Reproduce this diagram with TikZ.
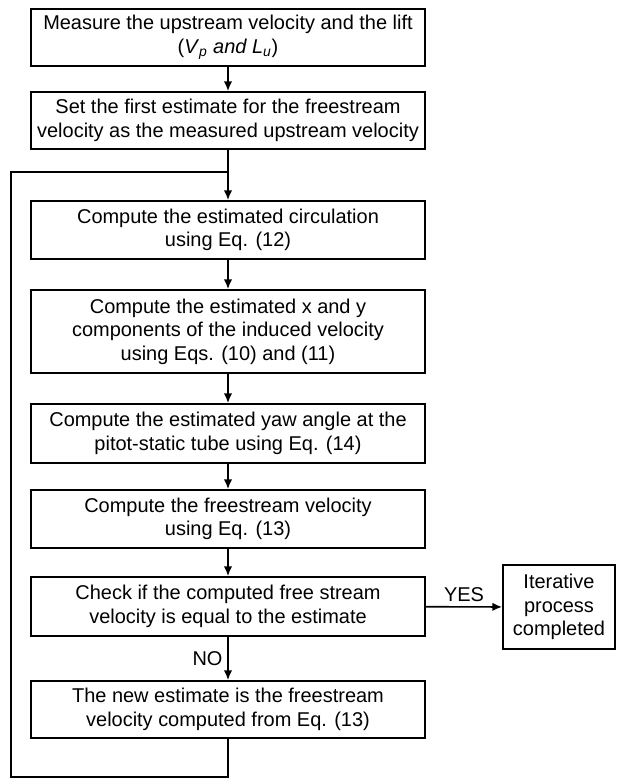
\documentclass[tikz,border=0pt]{standalone}
\usepackage{fontspec}
\setmainfont{Liberation Sans}
\usetikzlibrary{arrows.meta}

\tikzset{
	procbox/.style={draw, line width=1.2pt, align=center, minimum width=9.85cm,
		inner xsep=1pt, font=\fontsize{14.2}{16.8}\selectfont},
	flow/.style={line width=1.2pt, -{Latex[length=7pt, width=6pt]}},
	link/.style={line width=1.2pt},
	tag/.style={font=\fontsize{14.2}{16.8}\selectfont}
}

\begin{document}
\begin{tikzpicture}
		\useasboundingbox (0, 0) rectangle (15.45, -19.475);
		
		\node[procbox, minimum height=1.425cm] (measure) at (5.7, -0.9375)
			{Measure the upstream velocity and the lift\\(\textit{V}\textsubscript{\textit{p}}\textit{ and L}\textsubscript{\textit{u}})};
		\node[procbox, minimum height=1.425cm] (first) at (5.7, -3.0125)
			{Set the first estimate for the freestream\\velocity as the measured upstream velocity};
		\node[procbox, minimum height=1.45cm] (circ) at (5.7, -5.75)
			{Compute the estimated circulation\\using Eq. (12)};
		\node[procbox, minimum height=2.075cm] (induced) at (5.7, -8.2875)
			{Compute the estimated x and y\\components of the induced velocity\\using Eqs. (10) and (11)};
		\node[procbox, minimum height=1.475cm] (yaw) at (5.7, -10.8375)
			{Compute the estimated yaw angle at the\\pitot-static tube using Eq. (14)};
		\node[procbox, minimum height=1.45cm] (free) at (5.7, -12.975)
			{Compute the freestream velocity\\using Eq. (13)};
		\node[procbox, minimum height=1.475cm] (check) at (5.7, -15.1625)
			{Check if the computed free stream\\velocity is equal to the estimate};
		\node[procbox, minimum height=1.425cm] (update) at (5.7, -17.7375)
			{The new estimate is the freestream\\velocity computed from Eq. (13)};
		\node[procbox, minimum width=2.8cm, minimum height=2.1cm] (done) at (13.975, -15.175)
			{Iterative\\process\\completed};
		
		\coordinate (join) at (5.7, -4.3);
		\coordinate (corner) at (0.275, -19.425);
		
		\draw[flow] (measure) -- (first);
		\draw[flow] (first) -- (circ);
		\draw[flow] (circ) -- (induced);
		\draw[flow] (induced) -- (yaw);
		\draw[flow] (yaw) -- (free);
		\draw[flow] (free) -- (check);
		\draw[flow] (check) -- (update) node[midway, left, tag] {NO};
		\draw[flow] (check) -- (done) node[midway, above, tag] {YES};
		
		% loop back to the circulation step
		\draw[link] (update.south) |- (corner) |- (join);
	\end{tikzpicture}
\end{document}
